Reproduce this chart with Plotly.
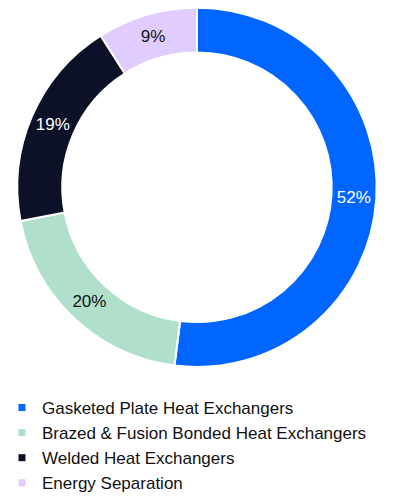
import plotly.graph_objects as go

categories = ["Gasketed Plate Heat Exchangers",
              "Brazed & Fusion Bonded Heat Exchangers",
              "Welded Heat Exchangers",
              "Energy Separation"]
values = [52, 20, 19, 9]
colors = ["#0066FF", "#B0E0CC", "#0D1128", "#E0CCFF"]
label_colors = ["#FFFFFF", "#111111", "#FFFFFF", "#111111"]

W, H = 394, 501
fig = go.Figure()
fig.add_trace(go.Pie(
    labels=categories, values=values, sort=False, direction="clockwise", rotation=0,
    hole=0.75,
    marker=dict(colors=colors, line=dict(color="white", width=2)),
    texttemplate="%{value}%", textposition="inside", insidetextorientation="horizontal",
    textfont=dict(family="Liberation Sans, Arial", size=17, color=label_colors),
    domain=dict(x=[0, 1], y=[(H - 383) / H, (H - 8) / H]),
    showlegend=False, hoverinfo="label+percent",
))
for c, col in zip(categories, colors):
    fig.add_trace(go.Scatter(x=[None], y=[None], mode="markers", name=c,
                             marker=dict(symbol="square", size=7, color=col),
                             legendgroup=c))

fig.update_layout(
    width=W, height=H, margin=dict(l=0, r=0, t=0, b=0),
    paper_bgcolor="white", plot_bgcolor="white",
    xaxis=dict(visible=False), yaxis=dict(visible=False),
    legend=dict(x=0.005, xanchor="left", y=(H - 407) / H, yanchor="top",
                font=dict(family="Liberation Sans, Arial", size=17, color="#111111"),
                tracegroupgap=0, itemwidth=30, bgcolor="rgba(0,0,0,0)"),
)
fig.write_html("out.html")
